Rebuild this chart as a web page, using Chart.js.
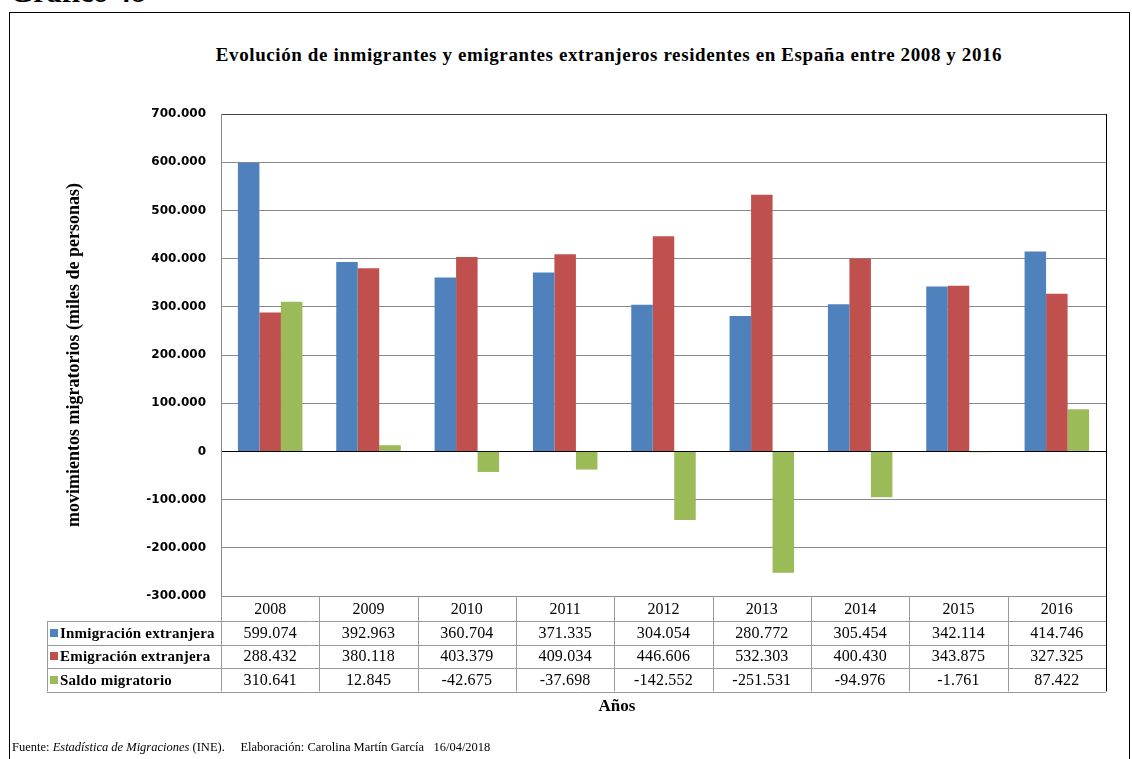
<!DOCTYPE html>
<html>
<head>
<meta charset="utf-8">
<script src="https://cdn.jsdelivr.net/npm/chart.js@4.4.1/dist/chart.umd.min.js"></script>
<style>
  body { margin: 0; width: 1132px; height: 759px; overflow: hidden; position: relative; background: #fff; font-family: "Liberation Serif", serif; }
  #gtitle { position: absolute; left: 10px; top: -23px; font: bold 30px/1 "Liberation Serif", serif; white-space: nowrap; }
  #frame { position: absolute; left: 9px; top: 12px; width: 1121px; height: 800px; border: 1px solid #000; box-sizing: border-box; }
  #title { position: absolute; left: 0; top: 44px; width: 1218px; text-align: center; font: bold 19px/1.2 "Liberation Serif", serif; letter-spacing: 0.6px; white-space: nowrap; }
  #footer { position: absolute; left: 12px; top: 740px; font: 12.5px/1.2 "Liberation Serif", serif; white-space: nowrap; }
  canvas { position: absolute; left: 0; top: 0; }
</style>
</head>
<body>
<div id="gtitle">Gráfico 48</div>
<div id="frame"></div>
<div id="title">Evolución de inmigrantes y emigrantes extranjeros residentes en España entre 2008 y 2016</div>
<canvas id="chart" width="1132" height="759"></canvas>
<div id="footer">Fuente: <i>Estadística de Migraciones</i> (INE).&nbsp;&nbsp;&nbsp;&nbsp; Elaboración: Carolina Martín García&nbsp;&nbsp; 16/04/2018</div>
<script>
// datos del gráfico
const years = ['2008', '2009', '2010', '2011', '2012', '2013', '2014', '2015', '2016'];
const inmigracion = [599074, 392963, 360704, 371335, 304054, 280772, 305454, 342114, 414746];
const emigracion = [288432, 380118, 403379, 409034, 446606, 532303, 400430, 343875, 327325];
const saldo = [310641, 12845, -42675, -37698, -142552, -251531, -94976, -1761, 87422];
const seriesNames = ['Inmigración extranjera', 'Emigración extranjera', 'Saldo migratorio'];
const colors = ['#4F81BD', '#C0504D', '#9BBB59'];

function fmt(v) {
  const s = Math.abs(v).toString().replace(/\B(?=(\d{3})+(?!\d))/g, '.');
  return (v < 0 ? '-' : '') + s;
}

// tabla de datos bajo el gráfico
const dataTable = {
  id: 'dataTable',
  afterDraw(chart) {
    const ctx = chart.ctx, ca = chart.chartArea, xs = chart.scales.x;
    const colW = (ca.right - ca.left) / years.length;
    const headH = 25, rowH = 23.5, labelLeft = 47;
    const top = ca.bottom, bottom = top + headH + rowH * 3;
    const rowTop = r => top + headH + rowH * r;
    ctx.save();
    ctx.strokeStyle = '#9a9a9a';
    ctx.lineWidth = 1;
    ctx.beginPath();
    // horizontales
    for (let r = 0; r <= 3; r++) {
      const y = Math.round(rowTop(r)) + 0.5;
      ctx.moveTo(labelLeft, y); ctx.lineTo(ca.right, y);
    }
    // verticales
    for (let c = 0; c < years.length; c++) {
      const x = Math.round(ca.left + colW * c) + 0.5;
      ctx.moveTo(x, top); ctx.lineTo(x, bottom);
    }
    ctx.moveTo(labelLeft + 0.5, rowTop(0)); ctx.lineTo(labelLeft + 0.5, bottom);
    ctx.stroke();
    // borde derecho del área
    ctx.strokeStyle = '#000';
    ctx.beginPath();
    const xr = Math.round(ca.right) + 0.5;
    ctx.moveTo(xr, ca.top); ctx.lineTo(xr, bottom);
    ctx.stroke();

    ctx.fillStyle = '#000';
    ctx.textAlign = 'center';
    ctx.textBaseline = 'middle';
    ctx.font = '16px "Liberation Serif"';
    years.forEach((y, i) => ctx.fillText(y, xs.getPixelForValue(i), top + headH / 2 + 1));
    ctx.letterSpacing = '0.2px';
    const rows = [inmigracion, emigracion, saldo];
    rows.forEach((vals, r) => {
      const yc = rowTop(r) + rowH / 2 + 1;
      vals.forEach((v, i) => ctx.fillText(fmt(v), xs.getPixelForValue(i), yc));
    });
    ctx.textAlign = 'left';
    ctx.font = 'bold 15px "Liberation Serif"';
    seriesNames.forEach((n, r) => {
      const yc = rowTop(r) + rowH / 2;
      ctx.fillStyle = colors[r];
      ctx.fillRect(labelLeft + 3, Math.round(yc - 4), 8, 8);
      ctx.fillStyle = '#000';
      ctx.fillText(n, labelLeft + 13, yc + 1);
    });
    ctx.letterSpacing = '0px';
    ctx.textAlign = 'center';
    ctx.font = 'bold 17px "Liberation Serif"';
    ctx.fillText('Años', 617, 707);
    ctx.restore();
  }
};

new Chart(document.getElementById('chart'), {
  type: 'bar',
  data: {
    labels: years,
    datasets: [
      { label: seriesNames[0], data: inmigracion, backgroundColor: colors[0] },
      { label: seriesNames[1], data: emigracion, backgroundColor: colors[1] },
      { label: seriesNames[2], data: saldo, backgroundColor: colors[2] }
    ]
  },
  options: {
    responsive: false,
    animation: false,
    layout: { padding: { left: 40, right: 26, top: 114, bottom: 163 } },
    categoryPercentage: 0.656,
    barPercentage: 1,
    plugins: { legend: { display: false }, tooltip: { enabled: false } },
    scales: {
      x: { display: false },
      y: {
        min: -300000, max: 700000,
        afterFit: s => { s.width = 181; },
        ticks: { stepSize: 100000, padding: 15, color: '#000', font: { family: 'DejaVu Sans', weight: 'bold', size: 12 }, callback: v => fmt(v) },
        grid: { drawTicks: false, color: c => c.tick.value === 0 ? '#000' : (c.tick.value === 700000 ? '#444' : '#8a8a8a') },
        border: { color: '#8a8a8a' },
        title: { display: true, text: 'movimientos migratorios (miles de personas)', color: '#000', padding: { top: 24 }, font: { family: 'Liberation Serif', weight: 'bold', size: 18 } }
      }
    }
  },
  plugins: [dataTable]
});
</script>
</body>
</html>
